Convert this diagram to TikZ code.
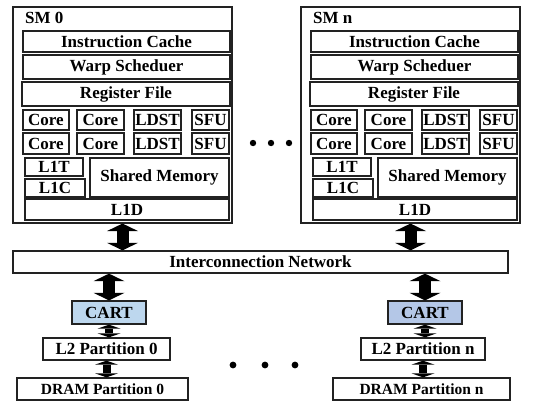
\documentclass[tikz,border=0pt]{standalone}
\usepackage{fontspec}
\setmainfont{Liberation Serif}
\usepackage{tikz}
\usetikzlibrary{arrows.meta,positioning}
\definecolor{cartblue}{RGB}{189,215,238}
\definecolor{cartgray}{RGB}{180,199,231}
\definecolor{edgegray}{RGB}{34,34,34}
\newcommand{\boxfont}{\fontsize{17}{17}\selectfont\bfseries}

\begin{document}
\begin{tikzpicture}[x=1pt, y=-1pt,
  cell/.style args={#1/#2/#3/#4}{minimum width={#3-(#1)}, minimum height={#4-(#2)},
    at={({((#1)+(#3))/2},{((#2)+(#4))/2})}},
  unit/.style={draw=edgegray, line width=1.3pt, inner sep=0pt, font=\boxfont},
  smbox/.style={draw=edgegray, line width=1.1pt, inner sep=0pt},
  bus/.style={line width=12pt, black, {Triangle[length=7.5pt,width=31pt,line width=0pt]}-{Triangle[length=7.5pt,width=31pt,line width=0pt]}},
  link/.style={line width=8pt, black, {Triangle[length=4pt,width=23pt,line width=0pt]}-{Triangle[length=4pt,width=23pt,line width=0pt]}}]
\useasboundingbox (0,0) rectangle (537,405);

% the two SMs
\foreach \s/\dx in {0/0, n/288}{
  \node[smbox, cell=13+\dx/7/232+\dx/223] (sm\s) {};
  \node[font=\boxfont, anchor=west, inner sep=0pt] (smlab\s) at (25+\dx,18) {SM \s};
  \node[unit, cell=23+\dx/31/230+\dx/52] (ic\s) {Instruction Cache};
  \node[unit, cell=23+\dx/55/230+\dx/79] (ws\s) {Warp Scheduer};
  \node[unit, cell=22+\dx/82/230+\dx/106] (rf\s) {Register File};
  \foreach \r/\ya/\yb in {1/110/130, 2/133/154}{
    \node[unit, cell=23+\dx/\ya/69+\dx/\yb] (core\s\r a) {Core};
    \node[unit, cell=77+\dx/\ya/124+\dx/\yb] (core\s\r b) {Core};
    \node[unit, cell=134+\dx/\ya/181+\dx/\yb] (ldst\s\r) {LDST};
    \node[unit, cell=192+\dx/\ya/229+\dx/\yb] (sfu\s\r) {SFU};
  }
  \node[unit, cell=25+\dx/158/83+\dx/176] (lonet\s) {L1T};
  \node[unit, cell=25+\dx/179/85+\dx/197] (lonec\s) {L1C};
  \node[unit, cell=90+\dx/158/229+\dx/197] (smem\s) {Shared Memory};
  \node[unit, cell=25+\dx/199/229+\dx/220] (lone\s) {L1D};
}
\foreach \x in {253,271,289} \fill (\x,143) circle (3.2pt);

% memory side
\node[unit, cell=13/251/508/273] (net) {Interconnection Network};
\node[unit, fill=cartblue, cell=72/301/146/324] (cart0) {CART};
\node[unit, fill=cartgray, cell=388/301/462/324] (cartn) {CART};
\node[unit, cell=43/338/170/360] (ltwo0) {L2 Partition 0};
\node[unit, cell=361/338/485/360] (ltwon) {L2 Partition n};
\node[unit, font=\fontsize{15.5}{15.5}\selectfont\bfseries, cell=17/378/188/400] (dram0) {DRAM Partition 0};
\node[unit, font=\fontsize{15.5}{15.5}\selectfont\bfseries, cell=333/378/510/400] (dramn) {DRAM Partition n};
\foreach \x in {233,265,295} \fill (\x,365) circle (3.4pt);

\draw[bus] (sm0.south) -- (sm0.south |- net.north);
\draw[bus] (smn.south) -- (smn.south |- net.north);
\draw[bus] (cart0.north |- net.south) -- (cart0.north);
\draw[bus] (cartn.north |- net.south) -- (cartn.north);
\draw[link] (cart0.south) -- (cart0.south |- ltwo0.north);
\draw[link] (cartn.south) -- (cartn.south |- ltwon.north);
\draw[link] (ltwo0.south) -- (ltwo0.south |- dram0.north);
\draw[link] (ltwon.south) -- (ltwon.south |- dramn.north);
\end{tikzpicture}
\end{document}
